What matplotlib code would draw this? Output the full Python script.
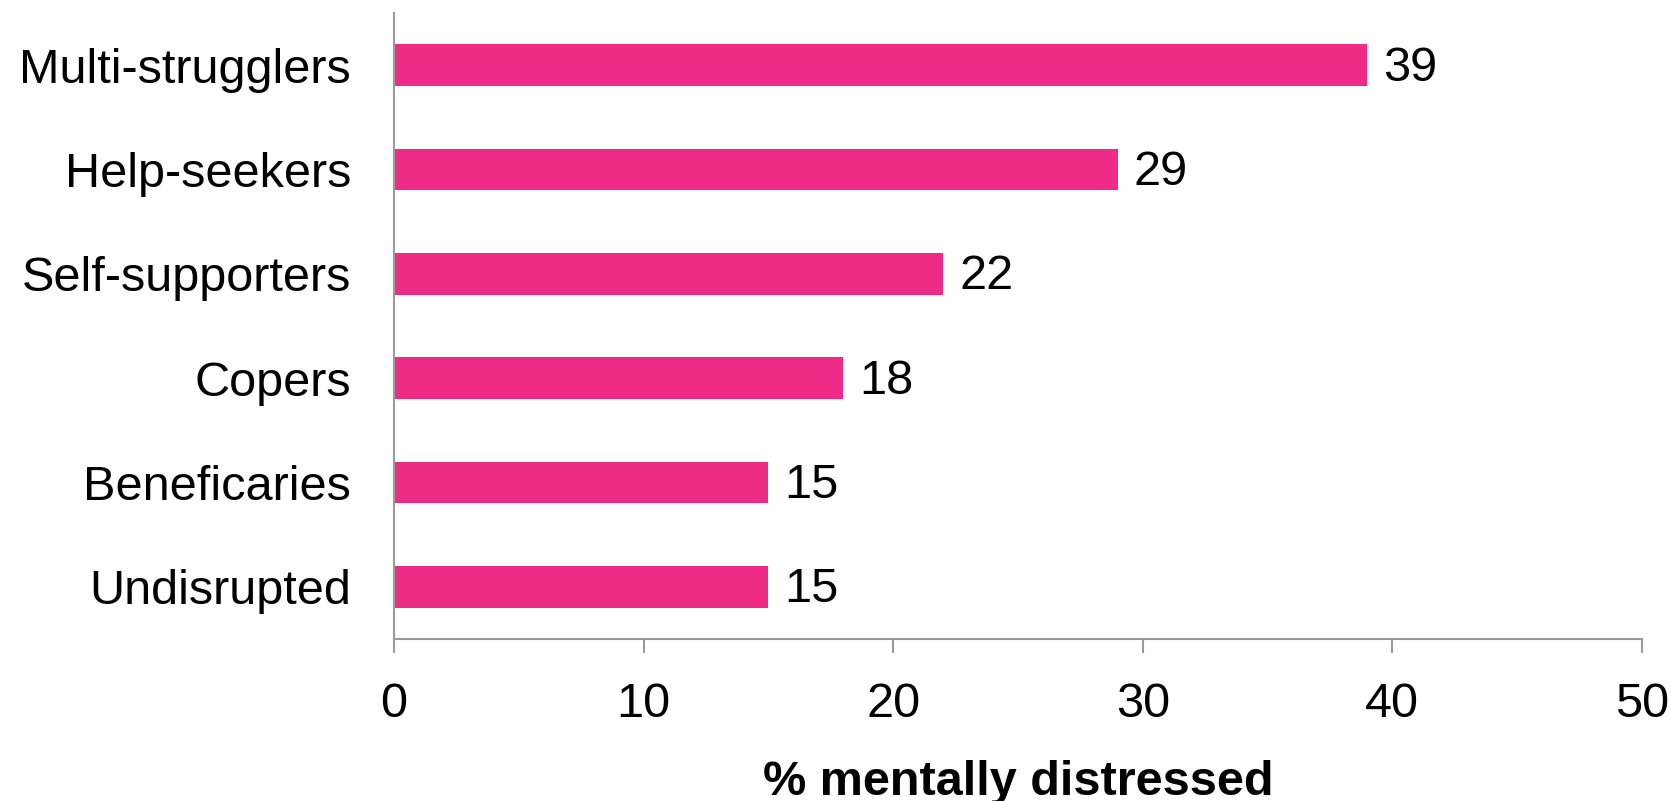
import matplotlib
matplotlib.use("Agg")
import matplotlib.pyplot as plt

groups = ["Multi-strugglers", "Help-seekers", "Self-supporters", "Copers", "Beneficaries", "Undisrupted"]
pct = [39, 29, 22, 18, 15, 15]
xticks = [0, 10, 20, 30, 40, 50]

plt.rcParams["font.family"] = ["Liberation Sans", "DejaVu Sans"]
PINK = "#EE2C87"
GREY = "#9a9a9a"
FS = 35

fig = plt.figure(figsize=(16.71, 8.01), dpi=100)
ax = fig.add_axes([0.2358, 0.2022, 0.9826 - 0.2358, 0.9838 - 0.2022])

ypos = list(range(len(groups)))[::-1]
ax.barh(ypos, pct, height=0.4, color=PINK)
for y, v in zip(ypos, pct):
    ax.annotate(str(v), (v, y), xytext=(16, -3), textcoords="offset pixels",
                ha="left", va="center", fontsize=FS)

ax.set_xlim(0, 50)
ax.set_ylim(-0.5, len(groups) - 0.5)
ax.set_xticks(xticks)
ax.set_yticks(ypos)
ax.set_yticklabels(groups)
ax.tick_params(axis="x", length=10, width=1.5, color=GREY, labelsize=FS, pad=21)
ax.tick_params(axis="y", length=0, labelsize=FS, pad=31)
for s in ["top", "right"]:
    ax.spines[s].set_visible(False)
for s in ["left", "bottom"]:
    ax.spines[s].set_color(GREY)
    ax.spines[s].set_linewidth(1.5)
ax.set_xlabel("% mentally distressed", fontsize=FS, fontweight="bold", labelpad=24)

fig.savefig("out.png", dpi=100)
